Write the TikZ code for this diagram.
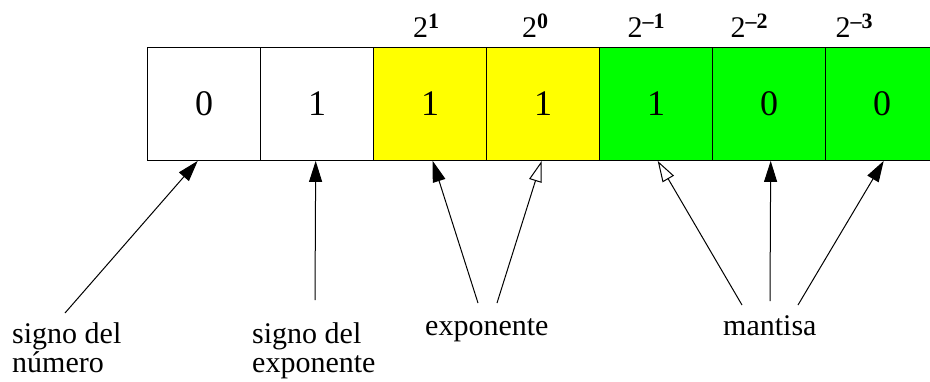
\documentclass[tikz,border=0pt]{standalone}
\usepackage{fontspec}
\newfontfamily\timesfont{Liberation Serif}
\usetikzlibrary{arrows.meta,calc}
\definecolor{expyellow}{RGB}{255,255,0}
\definecolor{mantgreen}{RGB}{0,255,0}
% power of two with a bold exponent
\newcommand{\pw}[1]{2\raisebox{9pt}{\fontsize{22}{22}\selectfont\bfseries #1}}
\begin{document}
\begin{tikzpicture}[x=1pt,y=-1pt,
  cell/.style={draw, line width=1.4pt, minimum width=113pt, minimum height=112.5pt,
    inner sep=0pt, anchor=north west, font=\fontsize{36}{36}\timesfont},
  powlab/.style={anchor=base, inner sep=0pt, font=\fontsize{30}{30}\timesfont},
  lab/.style={inner sep=0pt, font=\fontsize{30}{29}\timesfont},
  solidtip/.style={line width=1pt, -{Triangle[length=21pt,width=13pt]}},
  opentip/.style={line width=1pt, -{Triangle[open,length=21pt,width=13pt]}}]
\clip (0,0) rectangle (930,381);

% bit cells
\node[cell] (c1) at (147,47) {0};
\node[cell] (c2) at (260,47) {1};
\node[cell, fill=expyellow] (c3) at (373,47) {1};
\node[cell, fill=expyellow] (c4) at (486,47) {1};
\node[cell, fill=mantgreen] (c5) at (599,47) {1};
\node[cell, fill=mantgreen] (c6) at (712,47) {0};
\node[cell, fill=mantgreen] (c7) at (825,47) {0};

% place values
\node[powlab] (p1) at (426,37) {\pw{1}};
\node[powlab] (p2) at (535,37) {\pw{0}};
\node[powlab] (p3) at (646,37) {\pw{–1}};
\node[powlab] (p4) at (749,37) {\pw{–2}};
\node[powlab] (p5) at (854,37) {\pw{–3}};

% field labels
\node[lab, align=left, anchor=north west] (l1) at (12,322.5) {signo del\\número};
\node[lab, align=left, anchor=north west] (l2) at (252,322.5) {signo del\\exponente};
\node[lab, anchor=base west] (l3) at (425,335) {exponente};
\node[lab, anchor=base west] (l4) at (723,335) {mantisa};

% arrow tails
\coordinate (t1) at (65,313);
\coordinate (t2) at (315,300);
\coordinate (t3) at (478,303);
\coordinate (t4) at (497,303);
\coordinate (t5) at (742,305);
\coordinate (t6) at (770,301);
\coordinate (t7) at (798,305);

\draw[solidtip] (t1) -- ($(c1.south)+(-6.5,0)$);
\draw[solidtip] (t2) -- ($(c2.south)+(-1.5,0)$);
\draw[solidtip] (t3) -- ($(c3.south)+(2.5,0)$);
\draw[opentip]  (t4) -- ($(c4.south)+(-1.5,0)$);
\draw[opentip]  (t5) -- ($(c5.south)+(1.5,0)$);
\draw[solidtip] (t6) -- ($(c6.south)+(1.5,0)$);
\draw[solidtip] (t7) -- ($(c7.south)+(1.5,0)$);
\end{tikzpicture}
\end{document}
